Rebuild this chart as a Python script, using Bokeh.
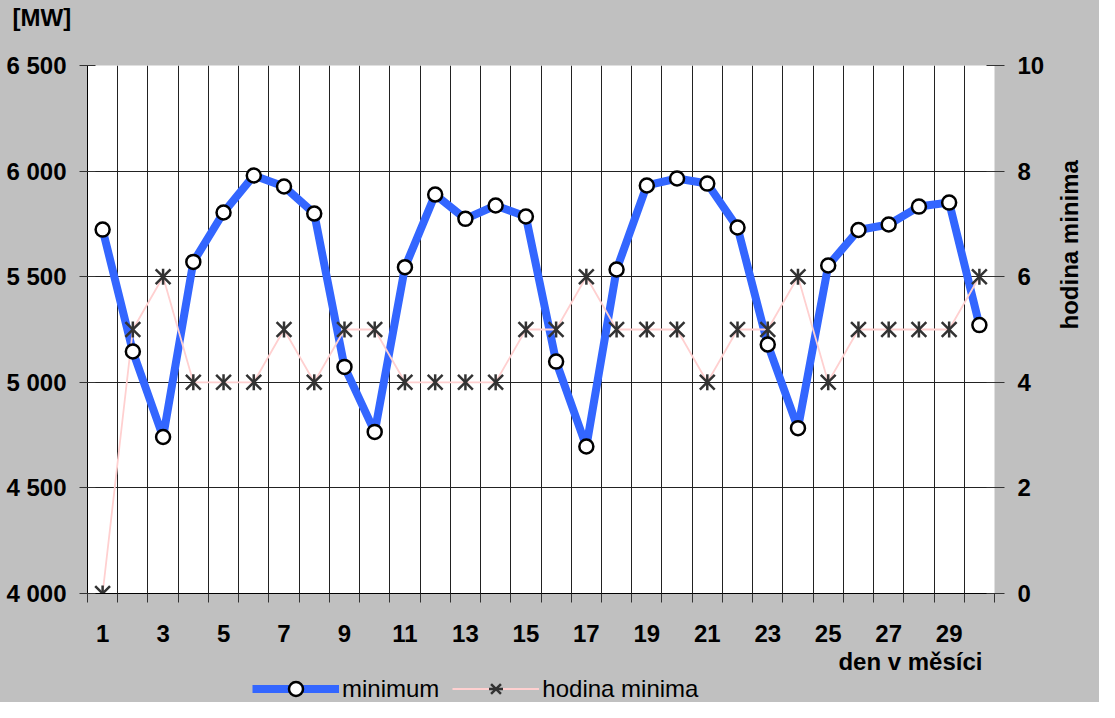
import math
from bokeh.plotting import figure
from bokeh.layouts import column
from bokeh.models import (Range1d, LinearAxis, FixedTicker, Legend, Title,
                          LegendItem, ColumnDataSource)
from bokeh.embed import file_html
from bokeh.resources import INLINE

# ---- data ----
days = list(range(1, 31))
minimum = [5723, 5146, 4741, 5570, 5804, 5979, 5927, 5799, 5073, 4765,
           5545, 5889, 5774, 5837, 5785, 5098, 4696, 5534, 5932, 5965,
           5941, 5733, 5179, 4783, 5553, 5721, 5747, 5832, 5851, 5271]
hodina = [0, 5, 6, 4, 4, 4, 5, 4, 5, 5,
          4, 4, 4, 4, 5, 5, 6, 5, 5, 5,
          4, 5, 5, 6, 4, 5, 5, 5, 5, 6]
x_ticks = [1, 3, 5, 7, 9, 11, 13, 15, 17, 19, 21, 23, 25, 27, 29]
y_ticks = [4000, 4500, 5000, 5500, 6000, 6500]
y_tick_labels = ["4 000", "4 500", "5 000", "5 500", "6 000", "6 500"]
h_ticks = [0, 2, 4, 6, 8, 10]

FONT = "Liberation Sans"
BG = "#C0C0C0"
BLUE = "#3366FF"
PINK = "#FFD0D0"
STAR = "#333333"

src = ColumnDataSource(dict(day=days, minimum=minimum, hodina=hodina))

p = figure(width=1099, height=675, output_backend="svg", toolbar_location=None,
           x_range=Range1d(0.5, 30.5), y_range=Range1d(4000, 6500),
           min_border_left=87, min_border_right=104, min_border_top=65,
           min_border_bottom=82, border_fill_color=BG,
           background_fill_color="white", outline_line_color=None)
p.extra_y_ranges = {"h": Range1d(0, 10)}

# grids
p.xgrid.ticker = FixedTicker(ticks=[d + 0.5 for d in days[:-1]])
p.xgrid.grid_line_color = "#222222"
p.xgrid.grid_line_width = 1
p.ygrid.ticker = FixedTicker(ticks=y_ticks)
p.ygrid.grid_line_color = "#222222"
p.ygrid.grid_line_width = 1

# x axis
xa = p.xaxis[0]
xa.ticker = FixedTicker(ticks=x_ticks, minor_ticks=[d - 0.5 for d in days] + [30.5])
xa.major_tick_line_color = None
xa.major_tick_out = 0
xa.major_tick_in = 0
xa.minor_tick_out = 9
xa.minor_tick_in = 0
xa.minor_tick_line_color = "#333333"
xa.axis_line_color = "black"
xa.major_label_standoff = 22
xa.major_label_text_font = FONT
xa.major_label_text_font_style = "bold"
xa.major_label_text_font_size = "24px"
xa.major_label_text_color = "black"

# left axis
ya = p.yaxis[0]
ya.ticker = FixedTicker(ticks=y_ticks)
ya.major_label_overrides = {t: l for t, l in zip(y_ticks, y_tick_labels)}
ya.major_tick_out = 8
ya.major_tick_in = 8
ya.minor_tick_line_color = None
ya.major_tick_line_color = "#333333"
ya.axis_line_color = "black"
ya.major_label_standoff = 13
ya.major_label_text_font = FONT
ya.major_label_text_font_style = "bold"
ya.major_label_text_font_size = "24px"
ya.major_label_text_color = "black"

# right axis
ra = LinearAxis(y_range_name="h", ticker=FixedTicker(ticks=h_ticks))
ra.major_tick_out = 10
ra.major_tick_in = 8
ra.minor_tick_line_color = None
ra.major_tick_line_color = "#333333"
ra.axis_line_color = None
ra.major_label_standoff = 13
ra.major_label_text_font = FONT
ra.major_label_text_font_style = "bold"
ra.major_label_text_font_size = "24px"
ra.major_label_text_color = "black"
ra.axis_label = "hodina minima"
ra.axis_label_standoff = 22
ra.axis_label_text_font = FONT
ra.axis_label_text_font_style = "bold"
ra.axis_label_text_font_size = "24px"
ra.axis_label_text_color = "black"
if "axis_label_orientation" in ra.properties():
    ra.axis_label_orientation = math.pi / 2
p.add_layout(ra, "right")

# series
r1 = p.line("day", "minimum", source=src, line_color=BLUE, line_width=8,
            line_join="round")
r2 = p.line("day", "hodina", source=src, y_range_name="h", line_color=PINK,
            line_width=1.8)
r2x = p.scatter("day", "hodina", source=src, y_range_name="h", marker="x",
                size=21, line_color=STAR, line_width=2.5)
r2v = p.scatter("day", "hodina", source=src, y_range_name="h", marker="dash",
                angle=math.pi / 2, size=16, line_color=STAR, line_width=2.5)
r1c = p.scatter("day", "minimum", source=src, marker="circle", size=14,
                fill_color="white", line_color="black", line_width=2.5)

# texts in side panels: a blank spacer title next to the frame, then [MW]
p.add_layout(Title(text=" ", text_font=FONT, text_font_size="24px", standoff=5),
             "above")
p.add_layout(Title(text="[MW]", align="left", offset=-75, vertical_align="bottom",
                   standoff=2, text_font=FONT, text_font_style="bold",
                   text_font_size="24px", text_color="black"), "above")
p.add_layout(Title(text="den v měsíci", align="right", offset=12,
                   vertical_align="bottom", standoff=2, text_font=FONT,
                   text_font_style="bold", text_font_size="24px",
                   text_color="black"), "below")

# ---- legend strip (separate small figure below) ----
q = figure(width=1099, height=27, output_backend="svg", toolbar_location=None,
           x_range=Range1d(0, 1), y_range=Range1d(0, 1),
           min_border=0, min_border_left=0, min_border_right=0,
           min_border_top=0, min_border_bottom=0,
           border_fill_color=BG, background_fill_color=None,
           outline_line_color=None)
q.axis.visible = False
q.grid.visible = False
lsrc = ColumnDataSource(dict(x=[-10], y=[-10]))
l1 = q.line("x", "y", source=lsrc, line_color=BLUE, line_width=8)
l1c = q.scatter("x", "y", source=lsrc, marker="circle", size=14,
                fill_color="white", line_color="black", line_width=2.5)
l2 = q.line("x", "y", source=lsrc, line_color=PINK, line_width=1.8)
l2x = q.scatter("x", "y", source=lsrc, marker="x", size=21, line_color=STAR,
                line_width=2.5)
l2v = q.scatter("x", "y", source=lsrc, marker="dash", angle=math.pi / 2,
                size=16, line_color=STAR, line_width=2.5)

legend = Legend(items=[LegendItem(label="minimum", renderers=[l1, l1c]),
                       LegendItem(label="hodina minima", renderers=[l2, l2x, l2v])],
                location=(165, -4), orientation="horizontal",
                glyph_width=87, glyph_height=35, label_standoff=3, spacing=13,
                padding=0, margin=0, border_line_color=None,
                background_fill_alpha=0, label_text_font=FONT,
                label_text_font_size="24px", label_text_color="black")
q.add_layout(legend)

layout = column(p, q, spacing=0, styles={"background-color": BG})
open("out.html", "w").write(file_html(layout, INLINE))
